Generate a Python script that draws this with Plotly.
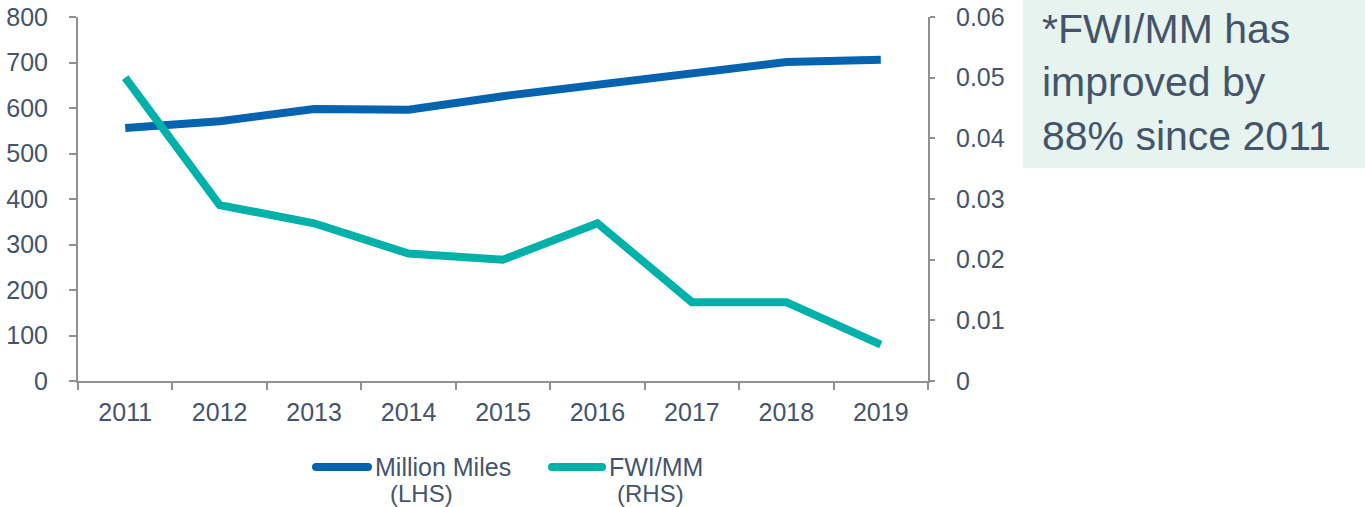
import plotly.graph_objects as go

years = ["2011", "2012", "2013", "2014", "2015", "2016", "2017", "2018", "2019"]
million_miles = [556, 571, 598, 596, 626, 651, 677, 701, 706]
fwi_mm = [0.050, 0.029, 0.026, 0.021, 0.020, 0.026, 0.013, 0.013, 0.006]
legend_lines = [["Million Miles", "(LHS)"], ["FWI/MM", "(RHS)"]]

BLUE = "#0563AF"
TEAL = "#00B1A9"
TEXT = "#44546A"
AXIS = "#8E9192"
FONT = "Liberation Sans, Arial, sans-serif"

W, H = 1365, 507
L, R, T, B = 78, 437, 17, 126
PW, PH = W - L - R, H - T - B


def px_x(x):
    return (x - L) / PW


def px_y(y):
    return (H - B - y) / PH


fig = go.Figure()
fig.add_trace(go.Scatter(
    x=years, y=million_miles, mode="lines", name="Million Miles (LHS)",
    line=dict(color=BLUE, width=8), yaxis="y", showlegend=False))
fig.add_trace(go.Scatter(
    x=years, y=fwi_mm, mode="lines", name="FWI/MM (RHS)",
    line=dict(color=TEAL, width=8), yaxis="y2", showlegend=False))

TICKFONT = dict(size=25, color=TEXT, family=FONT)
fig.update_layout(
    width=W, height=H,
    margin=dict(l=L, r=R, t=T, b=B, pad=0, autoexpand=False),
    paper_bgcolor="white", plot_bgcolor="white",
    font=dict(family=FONT, color=TEXT, size=22),
    xaxis=dict(
        type="category", range=[-0.5, len(years) - 0.5],
        showline=True, linecolor=AXIS, linewidth=2,
        ticks="outside", tickson="boundaries", ticklen=7, tickcolor=AXIS,
        tickwidth=1.5, showgrid=False, zeroline=False,
        tickfont=TICKFONT, ticklabelstandoff=8),
    yaxis=dict(
        range=[0, 800], dtick=100, showline=True, linecolor=AXIS, linewidth=2,
        ticks="outside", ticklen=7, tickcolor=AXIS, tickwidth=1.5,
        showgrid=False, zeroline=False, tickfont=TICKFONT,
        ticklabelstandoff=16),
    yaxis2=dict(
        range=[0, 0.06], dtick=0.01, overlaying="y", side="right",
        showline=True, linecolor=AXIS, linewidth=2, ticks="outside",
        ticklen=5, tickcolor=AXIS, tickwidth=1.5, showgrid=False,
        zeroline=False, tickfont=TICKFONT, ticklabelstandoff=16),
    showlegend=False,
)

# manual legend
legend_items = [
    (BLUE, 312, 372, 373, 388),
    (TEAL, 548, 606, 607, 615),
]
for (color, x0, x1, tx1, tx2), (l1, l2) in zip(legend_items, legend_lines):
    fig.add_shape(type="line", xref="paper", yref="paper",
                  x0=px_x(x0 + 4), x1=px_x(x1 - 4), y0=px_y(467), y1=px_y(467),
                  line=dict(color=color, width=8))
    fig.add_shape(type="circle", xref="paper", yref="paper",
                  x0=px_x(x0), x1=px_x(x0 + 8), y0=px_y(471), y1=px_y(463),
                  fillcolor=color, line=dict(width=0))
    fig.add_shape(type="circle", xref="paper", yref="paper",
                  x0=px_x(x1 - 8), x1=px_x(x1), y0=px_y(471), y1=px_y(463),
                  fillcolor=color, line=dict(width=0))
    fig.add_annotation(xref="paper", yref="paper", x=px_x(tx1), y=px_y(467),
                       xanchor="left", yanchor="middle", showarrow=False,
                       text=l1, font=dict(size=25, color=TEXT, family=FONT))
    fig.add_annotation(xref="paper", yref="paper", x=px_x(tx2), y=px_y(493),
                       xanchor="left", yanchor="middle", showarrow=False,
                       text=l2, font=dict(size=24, color=TEXT, family=FONT))

fig.add_shape(type="rect", xref="paper", yref="paper",
              x0=px_x(1023), x1=px_x(1365), y0=px_y(168), y1=px_y(0),
              fillcolor="#E6F3EE", line=dict(width=0), layer="below")
fig.add_annotation(xref="paper", yref="paper", x=px_x(1040), y=px_y(82),
                   xanchor="left", yanchor="middle", align="left",
                   showarrow=False,
                   text="*FWI/MM has<br>improved by<br>88% since 2011",
                   font=dict(size=41, color=TEXT, family=FONT))

fig.write_html(
    "out.html",
    config={"displayModeBar": False},
    post_script="document.body.style.margin='0';document.body.style.overflow='hidden';",
)
